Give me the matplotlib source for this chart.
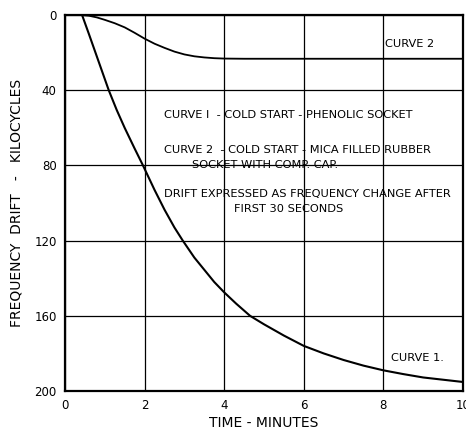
import matplotlib
matplotlib.use("Agg")
import matplotlib.pyplot as plt

# Curve 1 - cold start, phenolic socket
t1 = [0.43, 0.6, 0.8, 1.1, 1.3, 1.5, 1.75, 1.96, 2.25, 2.5, 2.75, 2.96, 3.25, 3.5, 3.75, 4.0,
      4.3, 4.65, 5.0, 5.5, 6.0, 6.5, 7.0, 7.5, 8.0, 8.5, 9.0, 9.5, 10.0]
drift1 = [0, 10, 22, 40, 50.5, 60, 71, 80, 93, 103.5, 113, 120, 129, 135.5, 142, 147.5,
          153.5, 160, 164.5, 170.5, 176, 180, 183.5, 186.5, 189, 191, 192.8, 194, 195.2]

# Curve 2 - cold start, mica filled rubber socket with comp. cap
t2 = [0.43, 0.6, 0.8, 1.0, 1.25, 1.5, 1.75, 2.0, 2.25, 2.5, 2.75, 3.0, 3.25, 3.5, 3.75, 4.0, 4.5, 5.0, 10.0]
drift2 = [0, 0.3, 1.2, 2.5, 4.3, 6.5, 9.4, 12.5, 15.2, 17.4, 19.4, 20.9, 21.9, 22.5, 22.9, 23.1, 23.2, 23.2, 23.2]

xticks = [0, 2, 4, 6, 8, 10]
yticks = [0, 40, 80, 120, 160, 200]

plt.rcParams['font.family'] = ['DejaVu Sans']

fig = plt.figure(figsize=(4.66, 4.33), dpi=100)
ax = fig.add_axes([0.1395, 0.097, 0.854, 0.868])

ax.plot(t1, drift1, color='black', lw=1.5)
ax.plot(t2, drift2, color='black', lw=1.3)

ax.set_xlim(0, 10)
ax.set_ylim(200, 0)
ax.set_xticks(xticks)
ax.set_yticks(yticks)
ax.set_xticklabels([str(v) for v in xticks], fontsize=8.5)
ax.set_yticklabels([str(v) for v in yticks], fontsize=8.5)
ax.tick_params(length=0, pad=6)
ax.grid(True, color='black', lw=0.9)
for s in ax.spines.values():
    s.set_linewidth(1.6)

ax.set_xlabel('TIME - MINUTES', fontsize=10, labelpad=3)
ax.set_ylabel('FREQUENCY  DRIFT   -   KILOCYCLES', fontsize=10, labelpad=8)

note = dict(fontsize=8.2, color='black', va='center')
ax.text(2.48, 53, 'CURVE I  - COLD START - PHENOLIC SOCKET', **note)
ax.text(2.48, 72, 'CURVE 2  - COLD START - MICA FILLED RUBBER', **note)
ax.text(3.2, 80, 'SOCKET WITH COMP. CAP.', **note)
ax.text(2.48, 95, 'DRIFT EXPRESSED AS FREQUENCY CHANGE AFTER', **note)
ax.text(4.25, 103, 'FIRST 30 SECONDS', **note)
ax.text(8.05, 15.5, 'CURVE 2', **note)
ax.text(8.2, 182.5, 'CURVE 1.', **note)

fig.savefig('out.png', dpi=100)
